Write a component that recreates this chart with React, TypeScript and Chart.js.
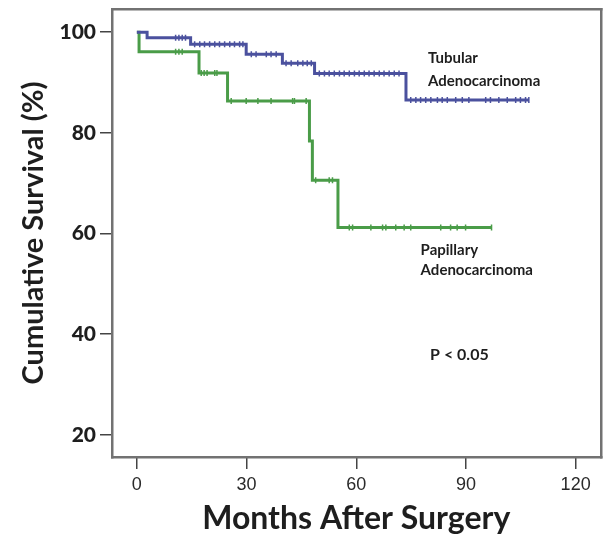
import React, { useEffect, useRef } from "react";
import { Chart, registerables } from "chart.js";

Chart.register(...registerables);

// Kaplan-Meier step points: [month, survival % after the event]
const tubularEventMonths = [0, 2.8, 14.7, 29.9, 39.8, 48.6, 73.6, 107.2];
const tubularSurvival = [100, 98.9, 97.6, 95.6, 93.8, 91.8, 86.5, 86.5];
const tubularCensorMonths = [
  10.6, 11.5, 12.4, 13.3,
  15.8, 17.2, 18.5, 19.9, 21.3, 22.6, 24, 25.4, 26.7, 28.1, 29,
  31.3, 32.6, 35.4, 36.7, 38.1,
  40.8, 42.2, 44, 45.4, 46.6, 47.7,
  49.9, 51.3, 52.6, 54, 55.4, 56.7, 58.1, 59.5, 60.8, 62.2, 63.5, 64.9, 66.3, 67.6, 69, 70.4, 71.7,
  74.9, 76.3, 77.6, 79, 80.4, 82.2, 83.5, 84.9, 87.2, 89, 90.8, 95.4, 96.7, 99, 101.3, 103.6, 104.9, 106.3, 107.2,
];

const papillaryEventMonths = [0, 0.6, 17, 24.8, 47.2, 48, 55, 97];
const papillarySurvival = [100, 96.1, 91.9, 86.3, 78.4, 70.6, 61.2, 61.2];
const papillaryCensorMonths = [
  10.6, 11.5, 12.4,
  17.6, 18.4, 19.2, 21.3, 21.9,
  25.8, 29.9, 33.1, 36.7, 42.6, 43.1, 46.3,
  48.9, 52.6, 53.5,
  58.1, 59, 64, 67.2, 68.1, 70.8, 73.1, 74.9, 83.1, 85.8, 87.6, 89.9, 97,
];

const xTicks = [0, 30, 60, 90, 120];
const yTicks = [20, 40, 60, 80, 100];

const BLUE = "#4b519e";
const GREEN = "#4a9c48";
const FRAME = "#727272";

function stepPoints(months: number[], surv: number[]) {
  return months.map((m, i) => ({ x: m, y: surv[i] }));
}
function survivalAt(months: number[], surv: number[], t: number) {
  let s = surv[0];
  for (let i = 0; i < months.length; i++) {
    if (months[i] <= t) s = surv[i];
  }
  return s;
}
function censorPoints(censor: number[], months: number[], surv: number[]) {
  return censor.map((c) => ({ x: c, y: survivalAt(months, surv, c) }));
}

const annotations = [
  { text: "Tubular", x: 79.6, y: 94.8 },
  { text: "Adenocarcinoma", x: 79.6, y: 90.3 },
  { text: "Papillary", x: 77.6, y: 56.7 },
  { text: "Adenocarcinoma", x: 77.6, y: 52.8 },
  { text: "P < 0.05", x: 80.2, y: 35.9 },
];

const framePlugin = {
  id: "frameAndText",
  afterDraw(chart: any) {
    const ctx = chart.ctx as CanvasRenderingContext2D;
    const xs = chart.scales.x;
    const ys = chart.scales.y;
    const left = Math.round(xs.getPixelForValue(xs.min));
    const right = Math.round(xs.getPixelForValue(xs.max));
    const top = Math.round(ys.getPixelForValue(ys.max));
    const bottom = Math.round(ys.getPixelForValue(ys.min));
    ctx.save();
    ctx.fillStyle = FRAME;
    const w = 2.5;
    ctx.fillRect(left - 1, top - 1, right - left + w, w);
    ctx.fillRect(left - 1, bottom - 1, right - left + w, w);
    ctx.fillRect(left - 1, top - 1, w, bottom - top + w);
    ctx.fillRect(right - 1, top - 1, w, bottom - top + w);
    ctx.fillStyle = "#1e1e1e";
    ctx.textBaseline = "middle";
    ctx.textAlign = "left";
    annotations.forEach((t, i) => {
      ctx.font = i === 4 ? "bold 16px Lato" : "bold 15px Lato";
      ctx.fillText(t.text, xs.getPixelForValue(t.x), ys.getPixelForValue(t.y));
    });
    ctx.restore();
  },
};

export default function App() {
  const ref = useRef<HTMLCanvasElement>(null);
  useEffect(() => {
    document.body.style.margin = "0";
    const chart = new Chart(ref.current as HTMLCanvasElement, {
      type: "line",
      data: {
        datasets: [
          {
            data: stepPoints(tubularEventMonths, tubularSurvival),
            borderColor: BLUE,
            borderWidth: 3,
            stepped: "before",
            pointRadius: 0,
            fill: false,
          },
          {
            data: stepPoints(papillaryEventMonths, papillarySurvival),
            borderColor: GREEN,
            borderWidth: 3,
            stepped: "before",
            pointRadius: 0,
            fill: false,
          },
          {
            data: censorPoints(tubularCensorMonths, tubularEventMonths, tubularSurvival),
            showLine: false,
            pointStyle: "line",
            rotation: 90,
            pointRadius: 3,
            borderColor: BLUE,
            borderWidth: 1.5,
          },
          {
            data: censorPoints(papillaryCensorMonths, papillaryEventMonths, papillarySurvival),
            showLine: false,
            pointStyle: "line",
            rotation: 90,
            pointRadius: 3,
            borderColor: GREEN,
            borderWidth: 1.5,
          },
        ] as any,
      },
      options: {
        animation: false,
        responsive: true,
        maintainAspectRatio: false,
        layout: { padding: { left: 0, right: 4, top: 9, bottom: 0 } },
        plugins: { legend: { display: false }, tooltip: { enabled: false } },
        scales: {
          x: {
            type: "linear",
            min: -6.8,
            max: 126.8,
            afterBuildTicks: (s: any) => {
              s.ticks = xTicks.map((v) => ({ value: v }));
            },
            afterFit: (s: any) => {
              s.height = 81;
              s.paddingLeft = 0;
              s.paddingRight = 0;
            },
            grid: { drawOnChartArea: false, drawTicks: true, tickLength: 12, color: "#444", lineWidth: 1.5 },
            border: { display: false },
            ticks: {
              font: { family: "Liberation Sans", size: 18 },
              color: "#2a2a2a",
              padding: 5,
              maxRotation: 0,
            },
            title: {
              display: true,
              text: "Months After Surgery",
              font: { family: "Lato", size: 32, weight: "bold" },
              color: "#1e1e1e",
              padding: { top: 0, bottom: 0 },
            },
          },
          y: {
            type: "linear",
            min: 15.6,
            max: 104.6,
            afterBuildTicks: (s: any) => {
              s.ticks = yTicks.map((v) => ({ value: v }));
            },
            afterFit: (s: any) => {
              s.width = 112;
              s.paddingTop = 0;
              s.paddingBottom = 0;
            },
            grid: { drawOnChartArea: false, drawTicks: true, tickLength: 12, color: "#444", lineWidth: 1.5 },
            border: { display: false },
            ticks: {
              font: { family: "Lato", size: 21, weight: "900" },
              color: "#1e1e1e",
              padding: 4,
            },
            title: {
              display: true,
              text: "Cumulative Survival (%)",
              font: { family: "Lato", size: 29, weight: "bold" },
              color: "#1e1e1e",
              padding: { top: 16, bottom: 0 },
            },
          },
        },
      } as any,
      plugins: [framePlugin],
    });
    return () => chart.destroy();
  }, []);
  return (
    <div style={{ width: 606, height: 538, position: "relative" }}>
      <canvas ref={ref} />
    </div>
  );
}
